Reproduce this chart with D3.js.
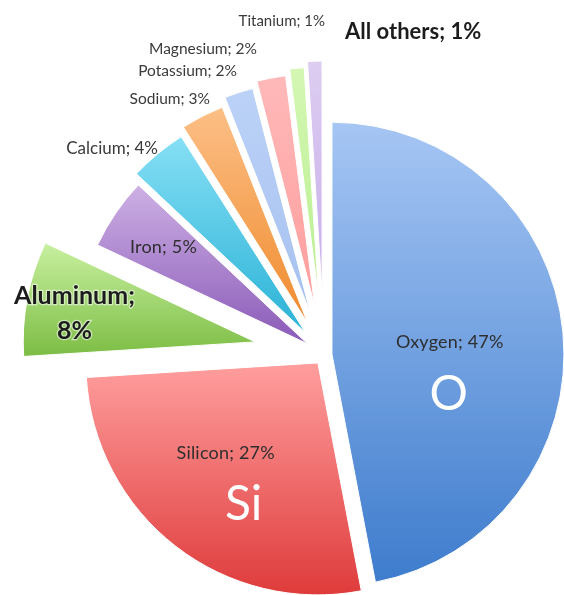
<!DOCTYPE html>
<html><head><meta charset="utf-8">
<script src="https://cdn.jsdelivr.net/npm/d3@7"></script>
<style>html,body{margin:0;padding:0;background:#fff}svg{display:block}</style>
</head><body>
<script>
// ---- data ----
const elements = ["Oxygen","Silicon","Aluminum","Iron","Calcium","Sodium","Potassium","Magnesium","Titanium","All others"];
const percents = [47,27,8,5,4,3,2,2,1,1];
const symbols  = ["O","Si","","","","","","","",""];

// ---- styling ----
const topColors = ["#a6c6f4","#ff9e9e","#c8f0a0","#cdb0e4","#86dff5","#fcbf86","#bcd2f7","#ffb9b9","#d4f7b4","#ddcdf1"];
const botColors = ["#3e7ccd","#df3b3b","#7cbd44","#8a5ab8","#2ab2d6","#f08b2e","#a6c1f0","#ff9d9d","#b9ef8f","#c7adea"];
const explode   = [8,10,70,20,29,36,44,50,56,62];

const W = 564, H = 595, R = 232, cx = 324, cy = 355;
const svg = d3.select("body").append("svg").attr("width",W).attr("height",H)
  .style("font-family","Lato, 'Open Sans', sans-serif");
const defs = svg.append("defs");
defs.append("filter").attr("id","soft").append("feGaussianBlur").attr("stdDeviation",0.55);
elements.forEach((e,i)=>{
  const g = defs.append("linearGradient").attr("id","g"+i).attr("x1",0).attr("y1",0).attr("x2",0).attr("y2",1);
  g.append("stop").attr("offset","0%").attr("stop-color",topColors[i]);
  g.append("stop").attr("offset","100%").attr("stop-color",botColors[i]);
});
const all = svg.append("g").attr("filter","url(#soft)");

const data = elements.map((e,i)=>({name:e,value:percents[i],sym:symbols[i],i}));
const pie = d3.pie().value(d=>d.value).sort(null);
const arcs = pie(data);
const arc = d3.arc().innerRadius(0).outerRadius(R);

const root = all.append("g").attr("transform",`translate(${cx},${cy})`);
function off(a,d){const m=(a.startAngle+a.endAngle)/2;return [Math.sin(m)*d,-Math.cos(m)*d];}

root.selectAll("path").data(arcs).join("path")
  .attr("d",arc)
  .attr("transform",a=>{const o=off(a,explode[a.index]);return `translate(${o[0]},${o[1]})`;})
  .attr("fill",a=>`url(#g${a.index})`)
  .attr("stroke","#ffffff").attr("stroke-width",1);

// inside labels: radius fraction, extra dx/dy, symbol dx/dy
const labelR = [0.51,0.55,0.78,0.75];
const labelShift = [[0,0],[-14,-9],[-3,7],[0,2]];
const symShift = [[-1,55],[18,53]];
arcs.slice(0,4).forEach(a=>{
  const o = off(a,explode[a.index]);
  const c = d3.arc().innerRadius(0).outerRadius(2*R*labelR[a.index]).centroid(a);
  const x = cx+o[0]+c[0]+labelShift[a.index][0], y = cy+o[1]+c[1]+labelShift[a.index][1];
  const d = a.data;
  if(a.index===2){
    const t = all.append("text").attr("text-anchor","middle").attr("dominant-baseline","middle")
      .attr("font-weight","bold").attr("font-size",25).attr("fill","#1e1e1e")
      .style("paint-order","stroke").attr("stroke","rgba(255,255,255,0.55)").attr("stroke-width",2.5);
    t.append("tspan").attr("x",x).attr("y",y-17).text(d.name+";");
    t.append("tspan").attr("x",x).attr("y",y+18).text(d.value+"%");
  } else {
    all.append("text").attr("x",x).attr("y",y).attr("text-anchor","middle").attr("dominant-baseline","middle")
      .attr("font-size",18).attr("letter-spacing",0.2).attr("fill","#2e2e2e").text(`${d.name}; ${d.value}%`);
  }
  if(d.sym){
    all.append("text").attr("x",x+symShift[a.index][0]).attr("y",y+symShift[a.index][1])
      .attr("text-anchor","middle").attr("dominant-baseline","middle")
      .attr("font-size",48).attr("fill","#fff").text(d.sym);
  }
});

// outside labels
const outside = [
  {i:4, x:158, y:150, anchor:"end", size:17, bold:false},
  {i:5, x:210, y:100, anchor:"end", size:15.5, bold:false},
  {i:6, x:237, y:72,  anchor:"end", size:15.5, bold:false},
  {i:7, x:257, y:50,  anchor:"end", size:15.5, bold:false},
  {i:8, x:325, y:22,  anchor:"end", size:15, bold:false},
  {i:9, x:345, y:33,  anchor:"start", size:22, bold:true}
];
outside.forEach(l=>{
  const d = data[l.i];
  all.append("text").attr("x",l.x).attr("y",l.y).attr("text-anchor",l.anchor).attr("dominant-baseline","middle")
    .attr("font-size",l.size).attr("font-weight",l.bold?"bold":"normal").attr("fill",l.bold?"#1e1e1e":"#3a3a3a")
    .text(`${d.name}; ${d.value}%`);
});
</script>
</body></html>
